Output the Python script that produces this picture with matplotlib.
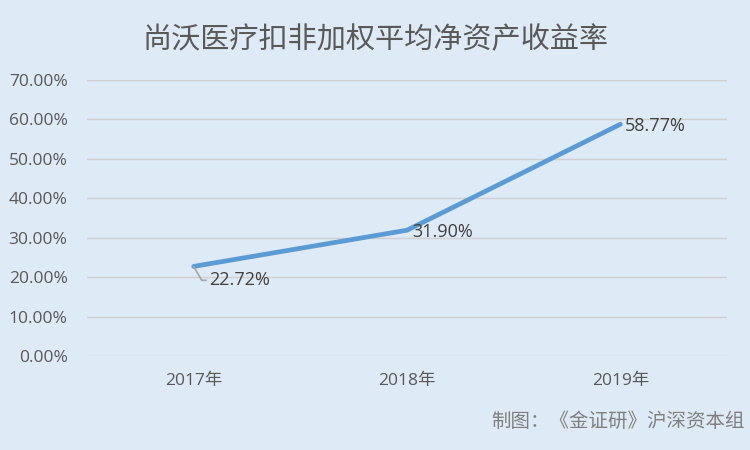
import matplotlib
matplotlib.use("Agg")
import matplotlib.pyplot as plt
from matplotlib.ticker import FuncFormatter

plt.rcParams['font.family'] = ['Noto Sans CJK SC', 'DejaVu Sans']

categories = ["2017年", "2018年", "2019年"]
values = [22.72, 31.90, 58.77]
labels = ["22.72%", "31.90%", "58.77%"]
yticks = [0, 10, 20, 30, 40, 50, 60, 70]
title = "尚沃医疗扣非加权平均净资产收益率"
footer = "制图：《金证研》沪深资本组"

bg = "#DEEAF6"
fig = plt.figure(figsize=(7.5, 4.5), dpi=100, facecolor=bg)
ax = fig.add_axes([87/750, 1-356/450, 640/750, 276/450], facecolor=bg)

x = list(range(len(categories)))
ax.plot(x, values, color="#5B9BD5", lw=3.4, solid_capstyle="round", zorder=3)

ax.set_xlim(-0.5, 2.5)
ax.set_ylim(0, 70)
ax.set_yticks(yticks)
ax.yaxis.set_major_formatter(FuncFormatter(lambda v, p: f"{v:.2f}%"))
ax.set_xticks(x)
ax.set_xticklabels(categories)
ax.grid(axis="y", color="#D0D0D0", lw=1)
ax.set_axisbelow(True)
for s in ax.spines.values():
    s.set_visible(False)
ax.tick_params(axis="y", length=0, labelsize=12.5, colors="#595959", pad=14)
ax.tick_params(axis="x", length=0, labelsize=12.5, colors="#595959", pad=12)
for t in ax.get_yticklabels() + ax.get_xticklabels():
    t.set_family(['Open Sans', 'Noto Sans CJK SC'])

# data labels
lbl_font = dict(fontsize=13, color="#404040", family=['Open Sans', 'DejaVu Sans'])
ax.annotate(labels[0], xy=(x[0], values[0]), xytext=(11, -10), textcoords="offset points",
            ha="left", va="center", **lbl_font,
            arrowprops=dict(arrowstyle="-", color="#A6A6A6", lw=1.2,
                            connectionstyle="angle,angleA=0,angleB=-60,rad=0",
                            shrinkA=0, shrinkB=0, relpos=(0, 0.5)))
ax.annotate(labels[1], xy=(x[1], values[1]), xytext=(4, -1), textcoords="offset points",
            ha="left", va="center", **lbl_font)
ax.annotate(labels[2], xy=(x[2], values[2]), xytext=(3, -1.5), textcoords="offset points",
            ha="left", va="center", **lbl_font)

fig.text(0.5, 1-40/450, title, ha="center", va="center", fontsize=21, color="#595959")
fig.text(745/750, 1-421/450, footer, ha="right", va="center", fontsize=14, color="#7F7F7F")

fig.savefig("out.png", dpi=100, facecolor=bg)
